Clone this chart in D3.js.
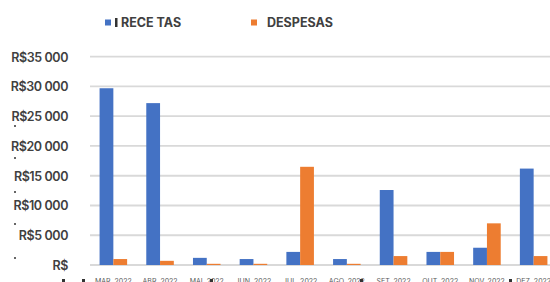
<!DOCTYPE html>
<html>
<head>
<meta charset="utf-8">
<script src="https://cdnjs.cloudflare.com/ajax/libs/d3/7.8.5/d3.min.js"></script>
<style>
  body { margin: 0; background: #fff; }
  text { font-family: Inter, "Liberation Sans", sans-serif; }
</style>
</head>
<body>
<div class="canvas"></div>
<script>
// data
const months = ["MAR. 2022", "ABR. 2022", "MAI. 2022", "JUN. 2022", "JUL. 2022",
  "AGO. 2022", "SET. 2022", "OUT. 2022", "NOV. 2022", "DEZ. 2022"];
const receitas = [29700, 27200, 1200, 1000, 2200, 1000, 12600, 2200, 2900, 16200];
const despesas = [1000, 700, 200, 200, 16500, 200, 1500, 2200, 7000, 1500];
const yTicks = [0, 5000, 10000, 15000, 20000, 25000, 30000, 35000];
const yTickLabels = ["R$", "R$5 000", "R$10 000", "R$15 000", "R$20 000", "R$25 000", "R$30 000", "R$35 000"];
const seriesNames = ["RECE TAS", "DESPESAS"];
const colors = ["#4472c4", "#ed7d31"];

const width = 550;
const height = 282;

const svg = d3
  .select(".canvas")
  .append("svg")
  .attr("width", width)
  .attr("height", height);

// scales
const x = d3.scaleBand().domain(months).range([90, 557]).paddingInner(0.41).paddingOuter(0.205);
const x1 = d3.scaleBand().domain([0, 1]).range([0, x.bandwidth()]);
const y = d3.scaleLinear().domain([0, 35000]).range([265, 56.7]);

// gridlines
svg
  .append("g")
  .selectAll("line")
  .data(yTicks)
  .enter()
  .append("line")
  .attr("x1", 90)
  .attr("x2", width)
  .attr("y1", (d) => y(d))
  .attr("y2", (d) => y(d))
  .attr("stroke", "#d9d9d9")
  .attr("stroke-width", 1.8);

// y axis labels
const yAxis = d3
  .axisLeft(y)
  .tickValues(yTicks)
  .tickSize(0)
  .tickPadding(0)
  .tickFormat((d, i) => yTickLabels[i]);

const yAxisGroup = svg.append("g").attr("transform", "translate(68,0)").call(yAxis);
yAxisGroup.select(".domain").remove();
yAxisGroup
  .selectAll("text")
  .attr("fill", "#404040")
  .attr("font-size", 12.5)
  .attr("font-weight", 600)
  .attr("font-family", "Inter, sans-serif")
  .attr("letter-spacing", -0.4)
  .attr("dy", "0.35em");

// bars
const groups = svg
  .append("g")
  .selectAll("g")
  .data(months)
  .enter()
  .append("g")
  .attr("transform", (d) => `translate(${x(d)},0)`);

groups
  .selectAll("rect")
  .data((d, i) => [receitas[i], despesas[i]])
  .enter()
  .append("rect")
  .attr("x", (d, j) => x1(j))
  .attr("width", x1.bandwidth())
  .attr("y", (d) => y(d))
  .attr("height", (d) => y(0) - y(d))
  .attr("fill", (d, j) => colors[j]);

// x axis labels (cut off at the bottom edge)
const xAxis = d3.axisBottom(x).tickSize(0).tickPadding(0);
const xAxisGroup = svg.append("g").attr("transform", "translate(0,279)").call(xAxis);
xAxisGroup.select(".domain").remove();
xAxisGroup
  .selectAll("text")
  .attr("fill", "#595959")
  .attr("font-size", 7)
  .attr("font-family", "Inter, sans-serif")
  .attr("dy", "0.7em");

// legend
const legend = svg.append("g");
const legendX = [105, 251];
const legendTextX = [121, 267];
seriesNames.forEach((name, i) => {
  legend
    .append("rect")
    .attr("x", legendX[i])
    .attr("y", 19.5)
    .attr("width", 6)
    .attr("height", 6)
    .attr("fill", colors[i]);
  legend
    .append("text")
    .attr("x", legendTextX[i])
    .attr("y", 27)
    .attr("fill", "#404040")
    .attr("font-size", 12.5)
    .attr("font-weight", 700)
    .text(name);
});
// the stray bar in front of the first legend label
legend.append("rect").attr("x", 115).attr("y", 18).attr("width", 2.5).attr("height", 9).attr("fill", "#333");

// small stray marks seen in the picture
const dots = [[15, 126], [15, 158], [15, 192], [15, 224], [15, 258]];
svg
  .append("g")
  .selectAll("circle")
  .data(dots)
  .enter()
  .append("circle")
  .attr("cx", (d) => d[0])
  .attr("cy", (d) => d[1])
  .attr("r", 1)
  .attr("fill", "#333");

const squares = [[62, 279], [82, 279], [210, 279], [360, 279], [509, 279]];
svg
  .append("g")
  .selectAll("rect")
  .data(squares)
  .enter()
  .append("rect")
  .attr("x", (d) => d[0])
  .attr("y", (d) => d[1])
  .attr("width", 3)
  .attr("height", 3)
  .attr("fill", "#333");
</script>
</body>
</html>
